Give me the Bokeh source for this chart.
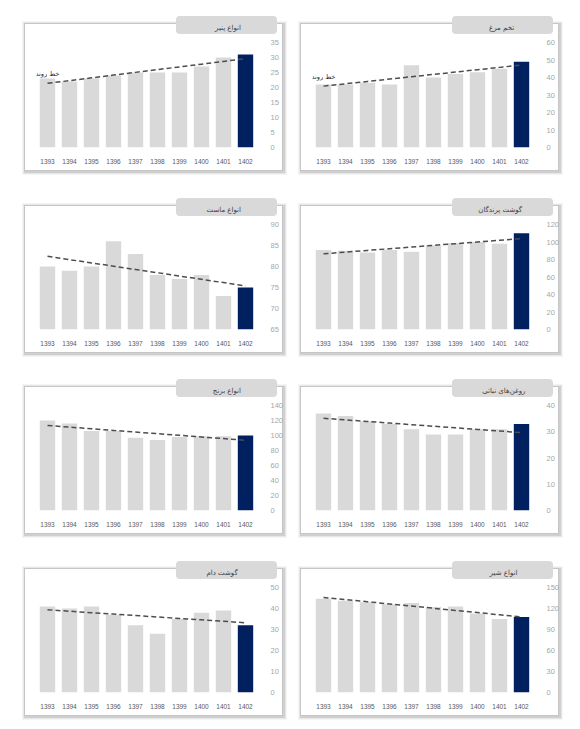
import base64
import numpy as np
from bokeh.plotting import figure
from bokeh.models import Range1d, FactorRange, FixedTicker, Label
from bokeh.layouts import column, row
from bokeh.embed import file_html
from bokeh.resources import INLINE

# ---------------- data ----------------
years = ["1393", "1394", "1395", "1396", "1397", "1398", "1399", "1400", "1401", "1402"]

titles = ["انواع پنیر", "تخم مرغ", "انواع ماست", "گوشت پرندگان",
          "انواع برنج", "روغن\u200cهای نباتی", "گوشت دام", "انواع شیر"]

cheese = [23, 22, 23, 24, 25, 25, 25, 27, 30, 31]
eggs = [36, 36, 37, 36, 47, 40, 42, 43, 45, 49]
yogurt = [80, 79, 80, 86, 83, 78, 77, 78, 73, 75]
poultry = [91, 90, 88, 91, 89, 96, 99, 100, 98, 110]
rice = [120, 116, 106, 106, 97, 94, 98, 99, 99, 100]
oil = [37, 36, 34, 33, 31, 29, 29, 31, 31, 33]
red_meat = [41, 40, 41, 37, 32, 28, 35, 38, 39, 32]
milk = [134, 131, 129, 126, 128, 122, 123, 113, 105, 108]

# y-axis (min, max, step) per panel
axis_cheese = (0, 35, 5)
axis_eggs = (0, 60, 10)
axis_yogurt = (65, 90, 5)
axis_poultry = (0, 120, 20)
axis_rice = (0, 140, 20)
axis_oil = (0, 40, 10)
axis_red_meat = (0, 50, 10)
axis_milk = (0, 150, 30)

trend_label = "خط روند"

GRAY = "#d9d9d9"
NAVY = "#002060"
FA_FONT = "DejaVu Sans"
NUM_FONT = "Liberation Sans"

FRAME_W, FRAME_TOP, FRAME_BOT = 220, 42, 147
CARD_T, CARD_W, CARD_H = 23, 259, 148
TAB_DX, TAB_T, TAB_W, TAB_H = 152, 16, 101, 18


def tab_svg():
    svg = (f"<svg xmlns='http://www.w3.org/2000/svg' width='{TAB_W}' height='{TAB_H}'>"
           f"<rect x='0' y='0' width='{TAB_W}' height='{TAB_H}' rx='4' ry='4' fill='{GRAY}'/></svg>")
    return "data:image/svg+xml;base64," + base64.b64encode(svg.encode()).decode()


def card_css(cl):
    """Card (white, thin gray border, soft shadow) and title tab as the figure's CSS background."""
    ct, cw, ch = CARD_T, CARD_W, CARD_H
    layers = [f"url({tab_svg()}) {cl + TAB_DX}px {TAB_T}px / {TAB_W}px {TAB_H}px no-repeat",
              f"linear-gradient(#fff,#fff) {cl + 1}px {ct + 1}px / {cw - 2}px {ch - 2}px no-repeat",
              f"linear-gradient(#c6c6c6,#c6c6c6) {cl}px {ct}px / {cw}px {ch}px no-repeat"]
    for ex, a in [(1, 0.10), (2, 0.06), (3, 0.04)]:
        layers.append(f"linear-gradient(rgba(0,0,0,{a}),rgba(0,0,0,{a})) "
                      f"{cl - ex + 1}px {ct - ex + 1}px / {cw + 2 * ex}px {ch + 2 * ex}px no-repeat")
    return ", ".join(layers) + ", #fff"


def make_panel(title, vals, axis, col, H, show_label):
    ymin, ymax, step = axis
    W = 292 if col == 0 else 284
    bl = 36 if col == 0 else 20
    br = W - bl - FRAME_W
    card_l = 24 if col == 0 else 8

    p = figure(width=W, height=H,
               x_range=FactorRange(*years, range_padding=0),
               y_range=Range1d(ymin, ymax),
               y_axis_location="right",
               output_backend="svg", toolbar_location=None,
               min_border_left=bl, min_border_right=br,
               min_border_top=FRAME_TOP, min_border_bottom=H - FRAME_BOT,
               styles={"background": card_css(card_l)})
    p.outline_line_color = None
    p.background_fill_color = None
    p.border_fill_color = None
    p.xgrid.visible = False
    p.ygrid.visible = False

    colors = [GRAY] * (len(years) - 1) + [NAVY]
    p.vbar(x=years, top=vals, bottom=ymin, width=0.7, fill_color=colors, line_color=None)

    # linear trend line (least squares of the data)
    idx = np.arange(len(vals))
    k, b0 = np.polyfit(idx, np.array(vals, dtype=float), 1)
    trend = k * idx + b0
    p.line(x=years, y=list(trend), line_color="#4d4d4d", line_width=1.5, line_dash="5 3")

    if show_label:
        p.add_layout(Label(x=years.index(years[0]) + 0.5, y=float(trend[0]),
                           y_offset=9, text=trend_label,
                           text_align="center", text_baseline="middle",
                           text_font=FA_FONT, text_font_size="6.5px",
                           text_color="#262626"))

    # title text, centred (approximately) on the tab
    est_w = 3.2 * len(title)
    tab_c = card_l + TAB_DX + TAB_W / 2
    p.title.text = title
    p.title.align = "right"
    p.title.offset = (bl + FRAME_W) - tab_c - est_w / 2 + (2 if col == 0 else 0)
    p.title.standoff = 22
    p.title.text_font = FA_FONT
    p.title.text_font_size = "7px"
    p.title.text_font_style = "normal"
    p.title.text_color = "#404040"

    yax = p.yaxis[0]
    yax.ticker = FixedTicker(ticks=list(range(ymin, ymax + 1, step)))
    yax.axis_line_color = None
    yax.major_tick_line_color = None
    yax.minor_tick_line_color = None
    yax.major_label_text_color = "#a6a6a6"
    yax.major_label_text_font = NUM_FONT
    yax.major_label_text_font_size = "7.5px"
    yax.major_label_standoff = 8

    xax = p.xaxis[0]
    xax.axis_line_color = None
    xax.major_tick_line_color = None
    xax.minor_tick_line_color = None
    xax.major_label_text_color = "#595959"
    xax.major_label_text_font = NUM_FONT
    xax.major_label_text_font_size = "6.5px"
    xax.major_label_standoff = 5
    return p


series = [cheese, eggs, yogurt, poultry, rice, oil, red_meat, milk]
axes = [axis_cheese, axis_eggs, axis_yogurt, axis_poultry, axis_rice, axis_oil,
        axis_red_meat, axis_milk]
heights = [182, 181, 182, 180]

rows = []
for r in range(4):
    figs = []
    for c in range(2):
        i = r * 2 + c
        figs.append(make_panel(titles[i], series[i], axes[i], c, heights[r], r == 0))
    rows.append(row(*figs))

layout = column(*rows)
open("out.html", "w").write(file_html(layout, INLINE))
